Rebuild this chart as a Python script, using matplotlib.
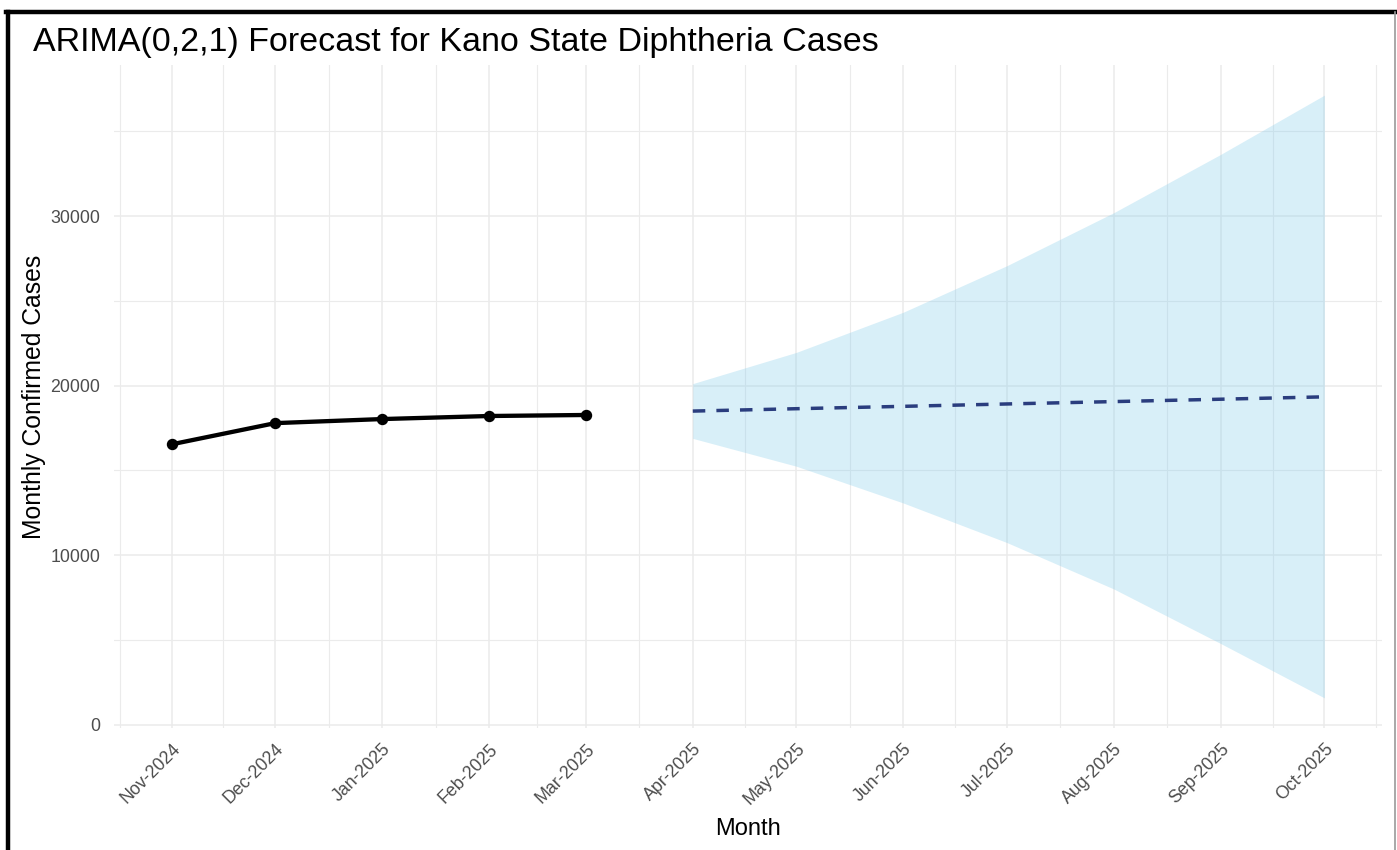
import numpy as np
import pandas as pd
import matplotlib
matplotlib.use('Agg')
import matplotlib.pyplot as plt
import matplotlib.dates as mdates
from matplotlib.ticker import FixedLocator
from matplotlib.lines import Line2D

plt.rcParams['font.family'] = ['Liberation Sans', 'DejaVu Sans']

# observed monthly confirmed cases
obs_months = pd.to_datetime(['2024-11-01', '2024-12-01', '2025-01-01', '2025-02-01', '2025-03-01'])
obs_cases = [16540, 17790, 18030, 18210, 18270]

# ARIMA(0,2,1) forecast with interval
fc_months = pd.to_datetime(['2025-04-01', '2025-05-01', '2025-06-01', '2025-07-01',
                            '2025-08-01', '2025-09-01', '2025-10-01'])
fc_mean = [18500, 18640, 18780, 18920, 19060, 19200, 19340]
fc_upper = [20120, 21960, 24330, 27070, 30200, 33640, 37130]
fc_lower = [16890, 15250, 13080, 10750, 8010, 4790, 1590]

all_months = obs_months.append(fc_months)
tick_labels = [d.strftime('%b-%Y') for d in all_months]

fig = plt.figure(figsize=(13.97, 8.5), dpi=100)
ax = fig.add_axes([114/1397, 1 - 728/850, (1382 - 114)/1397, (728 - 65)/850])

ax.fill_between(fc_months, fc_lower, fc_upper, color='#87CEEB', alpha=0.32, linewidth=0, zorder=2)
ax.plot(obs_months, obs_cases, color='black', lw=3.1, zorder=3)
ax.plot(obs_months, obs_cases, 'o', color='black', ms=7.2, zorder=4)
ax.plot(fc_months, fc_mean, color='#2a3d7e', lw=2.5, dashes=(3.6, 3.2), zorder=4)

# limits like ggplot (5% expansion)
xn = mdates.date2num(all_months)
xpad = 0.05 * (xn[-1] - xn[0])
ax.set_xlim(xn[0] - xpad, xn[-1] + xpad)
ymin = min(min(obs_cases), min(fc_lower))
ymax = max(max(obs_cases), max(fc_upper))
ypad = 0.05 * (ymax - ymin)
ax.set_ylim(ymin - ypad, ymax + ypad)

ax.set_xticks(xn)
ax.set_xticklabels(tick_labels, rotation=45, ha='right', va='top', rotation_mode='anchor')
minors = list((xn[:-1] + xn[1:]) / 2)
minors = [xn[0] - (xn[1] - xn[0]) / 2] + minors + [xn[-1] + (xn[-1] - xn[-2]) / 2]
ax.xaxis.set_minor_locator(FixedLocator(minors))
ax.set_yticks([0, 10000, 20000, 30000])
ax.set_yticklabels(['0', '10000', '20000', '30000'])
ax.yaxis.set_minor_locator(FixedLocator([5000, 15000, 25000, 35000]))

ax.grid(True, which='major', color='#EBEBEB', lw=1.1, zorder=0)
ax.grid(True, which='minor', color='#EBEBEB', lw=0.8, zorder=0)
ax.set_axisbelow(True)
for s in ax.spines.values():
    s.set_visible(False)
ax.tick_params(which='both', length=0)
ax.tick_params(axis='both', labelsize=12.8, labelcolor='#4D4D4D')
ax.tick_params(axis='x', pad=9)
ax.tick_params(axis='y', pad=10)

ax.set_xlabel('Month', fontsize=17, labelpad=7)
ax.set_ylabel('Monthly Confirmed Cases', fontsize=17.8, labelpad=3)
fig.text(33/1397, 1 - 42/850, 'ARIMA(0,2,1) Forecast for Kano State Diphtheria Cases',
         fontsize=24.5, va='center', ha='left')

# frame around the screenshot
fig.add_artist(Line2D([6/1397, 1], [1 - 12/850, 1 - 12/850], color='black', lw=3.2, transform=fig.transFigure))
fig.add_artist(Line2D([8/1397, 8/1397], [0, 1 - 12/850], color='black', lw=3.2, transform=fig.transFigure))
fig.add_artist(Line2D([1394.5/1397, 1394.5/1397], [0, 1 - 12/850], color='#999999', lw=1.2, transform=fig.transFigure))

fig.savefig('out.png', dpi=100)
